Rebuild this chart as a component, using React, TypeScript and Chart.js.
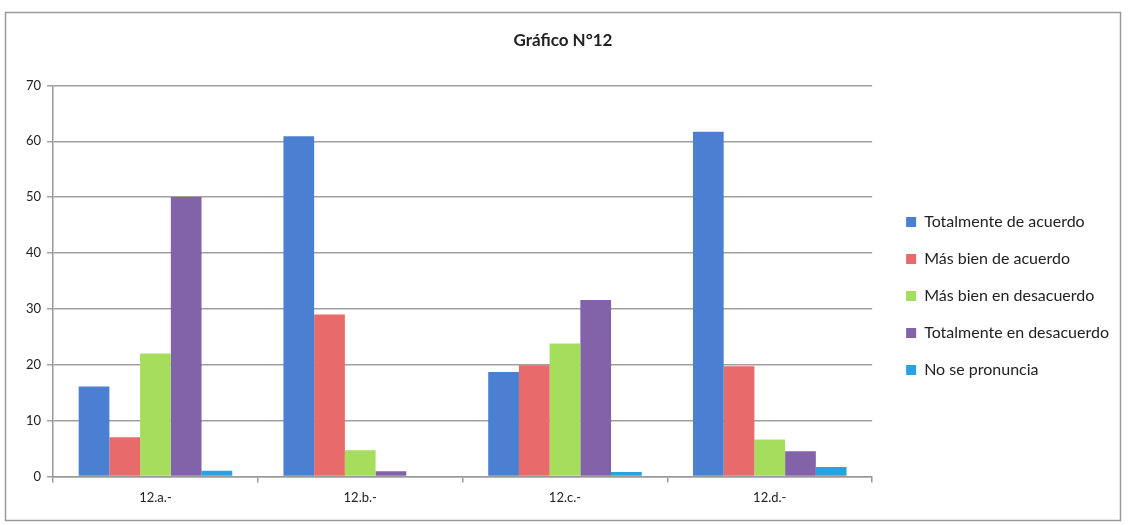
import React, { useEffect, useRef } from "react";
import { Chart, registerables } from "chart.js";

Chart.register(...registerables);

const categories = ["12.a.-", "12.b.-", "12.c.-", "12.d.-"];
const seriesNames = [
  "Totalmente de acuerdo",
  "Más bien de acuerdo",
  "Más bien en desacuerdo",
  "Totalmente en desacuerdo",
  "No se pronuncia",
];
const totalmenteDeAcuerdo = [16.1, 60.9, 18.7, 61.7];
const masBienDeAcuerdo = [7, 29, 19.9, 19.7];
const masBienEnDesacuerdo = [22, 4.7, 23.8, 6.6];
const totalmenteEnDesacuerdo = [50, 0.9, 31.6, 4.5];
const noSePronuncia = [1, 0, 0.8, 1.7];
const seriesValues = [
  totalmenteDeAcuerdo,
  masBienDeAcuerdo,
  masBienEnDesacuerdo,
  totalmenteEnDesacuerdo,
  noSePronuncia,
];
const colors = ["#4a7fd1", "#e96a6a", "#a5dd5c", "#8262a8", "#27a3e3"];
const yTicks = [0, 10, 20, 30, 40, 50, 60, 70];

const FONT = "Lato, 'Open Sans', sans-serif";

const borderPlugin = {
  id: "frameBorder",
  beforeDraw(chart: any) {
    const ctx = chart.ctx;
    ctx.save();
    ctx.fillStyle = "#ffffff";
    ctx.fillRect(0, 0, chart.width, chart.height);
    ctx.strokeStyle = "#9a9a9a";
    ctx.lineWidth = 1.5;
    ctx.strokeRect(5.5, 12.5, 1115, 508);
    ctx.restore();
  },
};

const legendShiftPlugin = {
  id: "legendShift",
  afterLayout(chart: any) {
    if (chart.legend) {
      chart.legend.left += 13;
      chart.legend.right += 13;
    }
  },
};

export default function App() {
  const ref = useRef<HTMLCanvasElement>(null);
  useEffect(() => {
    if (!ref.current) return;
    const chart = new Chart(ref.current, {
      type: "bar",
      data: {
        labels: categories,
        datasets: seriesNames.map((name, i) => ({
          label: name,
          data: seriesValues[i],
          backgroundColor: colors[i],
          borderWidth: 0,
          categoryPercentage: 0.75,
          barPercentage: 1,
        })),
      },
      options: {
        animation: false,
        responsive: false,
        maintainAspectRatio: false,
        layout: { padding: { left: 20, right: 24, top: 20, bottom: 11 } },
        plugins: {
          title: {
            display: true,
            text: "Gráfico N°12",
            color: "#222",
            font: { family: FONT, size: 17, weight: "bold" },
            padding: { top: 10, bottom: 35 },
          },
          legend: {
            position: "right",
            title: {
              display: true,
              text: "",
              font: { size: 10 },
              padding: { top: 46, bottom: 0 },
            },
            labels: {
              boxWidth: 10,
              boxHeight: 10,
              padding: 21,
              color: "#222",
              font: { family: FONT, size: 16 },
            },
          },
          tooltip: { enabled: false },
        },
        scales: {
          x: {
            grid: {
              drawOnChartArea: false,
              drawTicks: true,
              tickLength: 6,
              color: "#999",
              lineWidth: 1.5,
            },
            border: { color: "#999", width: 1.5 },
            ticks: { color: "#222", font: { family: FONT, size: 13 }, padding: 8 },
          },
          y: {
            min: 0,
            max: 70,
            afterBuildTicks(scale: any) {
              scale.ticks = yTicks.map((v) => ({ value: v }));
            },
            grid: { color: "#a0a0a0", lineWidth: 1.5, tickLength: 6 },
            border: { color: "#999", width: 1.5 },
            ticks: { color: "#222", font: { family: FONT, size: 13 }, padding: 6 },
          },
        },
      },
      plugins: [borderPlugin, legendShiftPlugin],
    });
    return () => chart.destroy();
  }, []);
  return (
    <div style={{ position: "fixed", left: 0, top: 0, width: 1130, height: 525, background: "#fff" }}>
      <canvas ref={ref} width={1130} height={525} style={{ width: 1130, height: 525 }} />
    </div>
  );
}
